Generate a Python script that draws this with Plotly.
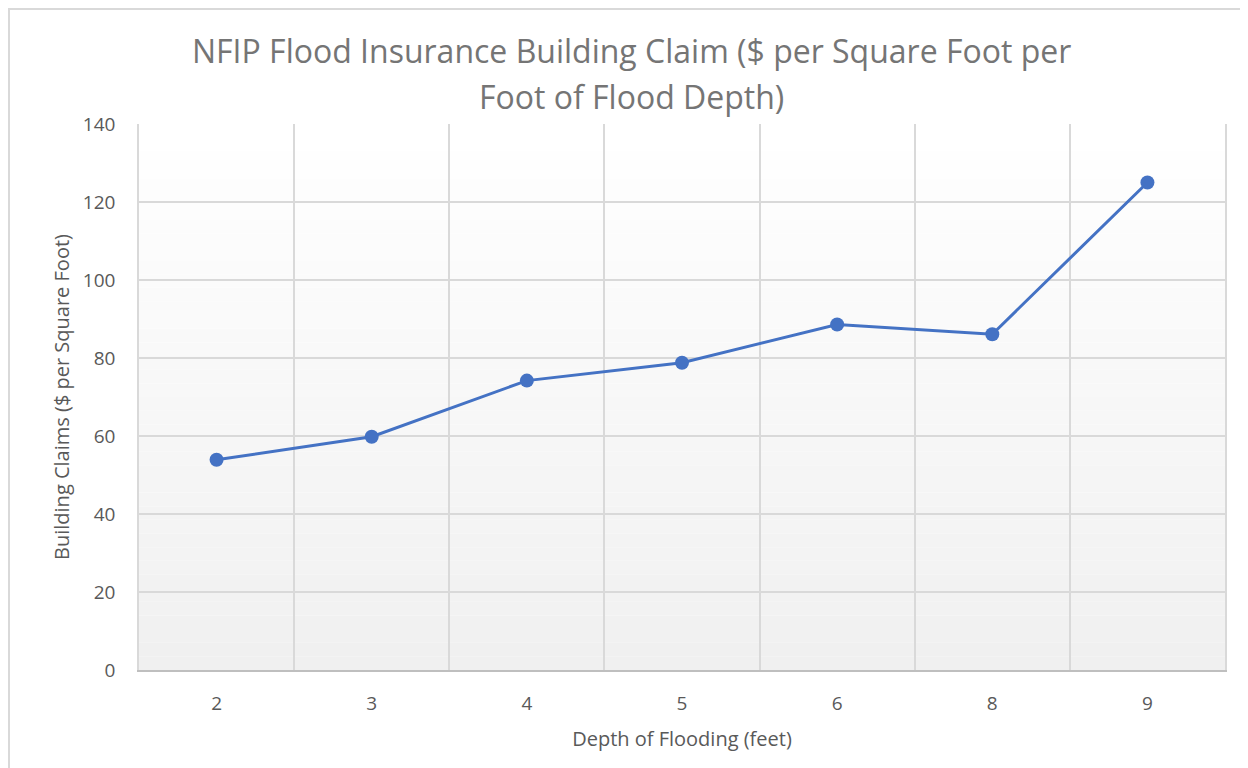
import plotly.graph_objects as go

# Depth of flooding (feet) -> NFIP building claim ($ per sq ft)
DEPTHS = ["2", "3", "4", "5", "6", "8", "9"]
CLAIMS = [53.9, 59.8, 74.2, 78.8, 88.6, 86.1, 125.0]

# page body adds an 8px offset, so the figure is sized to fill the rest
OFF = 8
W, H = 1248 - OFF, 768 - OFF
ML, MR, MT, MB = 139 - OFF, 23, 124 - OFF, 98
GRID = "#d9d9d9"
TXT = "#595959"
FONT = "Open Sans, Noto Sans, sans-serif"

fig = go.Figure()

fig.add_trace(go.Scatter(
    x=DEPTHS, y=CLAIMS, mode="lines+markers",
    line=dict(color="#4472c4", width=3),
    marker=dict(color="#4472c4", size=14),
    showlegend=False,
))

# soft top-to-bottom gradient inside the plot area (Excel style)
shapes = []
n = 40
for i in range(n):
    t = i / (n - 1)
    v = round(255 - t * 15)
    shapes.append(dict(
        type="rect", xref="x domain", yref="y domain",
        x0=0, x1=1, y0=1 - (i + 1) / n, y1=1 - i / n,
        fillcolor=f"rgb({v},{v},{v})", line=dict(width=0), layer="below",
    ))

# outer chart border (only left/top edges are visible in the frame)
pw, ph = W - ML - MR, H - MT - MB
shapes.append(dict(type="rect", xref="paper", yref="paper",
                   x0=(1 - ML) / pw, x1=1.2, y0=-0.5, y1=1 + (MT - 1) / ph,
                   line=dict(color=GRID, width=2), layer="below"))

tx = (631 - OFF - ML) / pw
annotations = [
    dict(text="NFIP Flood Insurance Building Claim ($ per Square Foot per",
         x=tx, y=1 + (MT - (50 - OFF)) / ph, xref="paper", yref="paper",
         showarrow=False, font=dict(family=FONT, size=32, color="#757575"),
         xanchor="center", yanchor="middle"),
    dict(text="Foot of Flood Depth)",
         x=tx, y=1 + (MT - (97 - OFF)) / ph, xref="paper", yref="paper",
         showarrow=False, font=dict(family=FONT, size=32, color="#757575"),
         xanchor="center", yanchor="middle"),
]

fig.update_layout(
    width=W, height=H,
    margin=dict(l=ML, r=MR, t=MT, b=MB),
    paper_bgcolor="white", plot_bgcolor="rgba(0,0,0,0)",
    shapes=shapes, annotations=annotations,
    xaxis=dict(
        type="category", tickson="boundaries", range=[-0.5, len(DEPTHS) - 0.5],
        showgrid=True, gridcolor=GRID, gridwidth=1.5,
        showline=True, linecolor="#bfbfbf", linewidth=2,
        ticks="", ticklabelstandoff=15,
        tickfont=dict(family=FONT, size=19, color=TXT),
        title=dict(text="Depth of Flooding (feet)", standoff=17,
                   font=dict(family=FONT, size=20, color=TXT)),
        zeroline=False,
    ),
    yaxis=dict(
        range=[0, 140], dtick=20,
        showgrid=True, gridcolor=GRID, gridwidth=1.5,
        showline=True, linecolor=GRID, linewidth=1.5, mirror=True,
        ticks="", ticklabelstandoff=18,
        tickfont=dict(family=FONT, size=19, color=TXT),
        title=dict(text="Building Claims ($ per Square Foot)", standoff=8,
                   font=dict(family=FONT, size=20, color=TXT)),
        zeroline=False,
    ),
)

fig.write_html("out.html")
